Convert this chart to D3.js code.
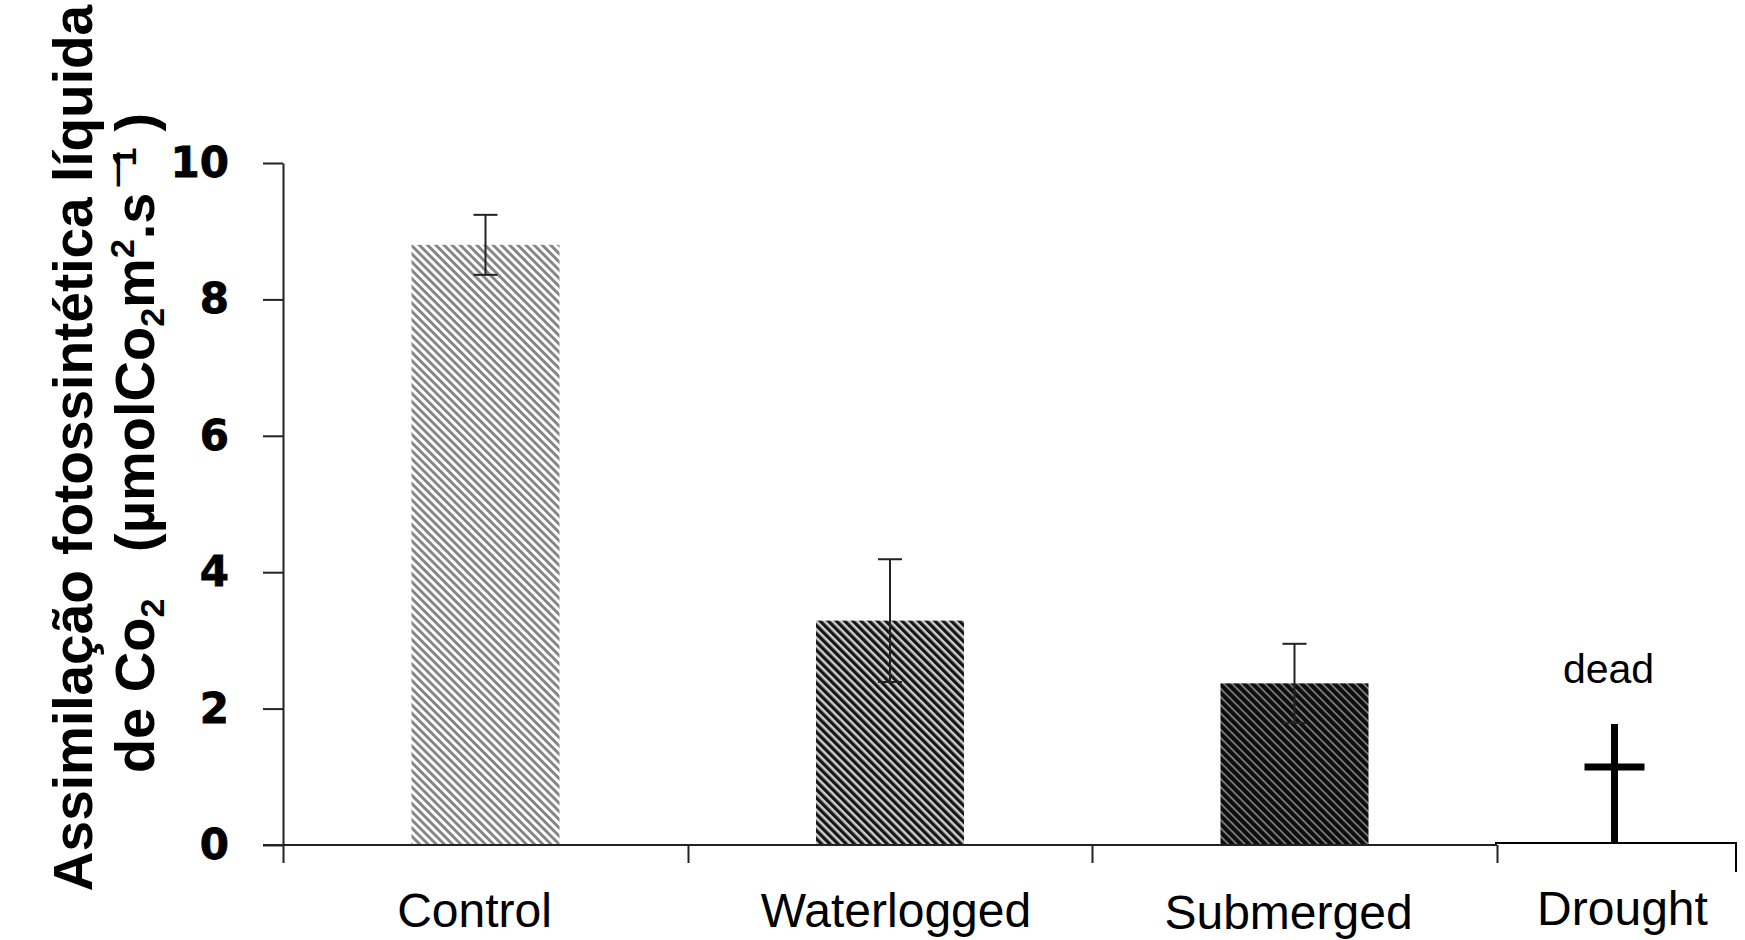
<!DOCTYPE html>
<html>
<head>
<meta charset="utf-8">
<script src="https://cdn.jsdelivr.net/npm/d3@7"></script>
<style>
  body { margin: 0; background: #fff; }
  text { white-space: pre; }
</style>
</head>
<body>
<div id="chart"></div>
<script>
// Chart data
const categories = ["Control", "Waterlogged", "Submerged", "Drought"];
const means = [8.8, 3.29, 2.37, 0];
const errors = [0.44, 0.9, 0.58, 0];
const yTicks = [0, 2, 4, 6, 8, 10];
const deadLabel = "dead";

(function () {
  const [w, h] = [1745, 940];
  const axisColor = "#222";
  const sans = "Liberation Sans, Arial, sans-serif";

  // band edges (drought band is narrower in the original)
  const xScale = d3.scaleLinear()
    .domain([0, 1, 2, 3, 4])
    .range([283, 688, 1092, 1497, 1736]);

  const yScale = d3.scaleLinear()
    .domain([0, 10])
    .range([845, 163]);

  const barWidth = 148;
  // small label nudges / baselines, as in the original layout
  const labelDx = [-11, 6, -6, 6];
  const labelY = [927, 927, 929, 925];

  const svg = d3.select("#chart")
    .append("svg")
    .attr("width", w)
    .attr("height", h);

  // hatch patterns
  const hatches = [
    { id: "hatch0", bg: "#ffffff", fg: "#858585", stripe: 2.9 },
    { id: "hatch1", bg: "#cfcfcf", fg: "#161616", stripe: 3.3 },
    { id: "hatch2", bg: "#8a8a8a", fg: "#0d0d0d", stripe: 4.2 },
    { id: "hatch3", bg: "#8a8a8a", fg: "#0d0d0d", stripe: 4.2 }
  ];
  const defs = svg.append("defs");
  hatches.forEach((p) => {
    const pat = defs.append("pattern")
      .attr("id", p.id)
      .attr("patternUnits", "userSpaceOnUse")
      .attr("width", 5.8)
      .attr("height", 5.8)
      .attr("patternTransform", "rotate(-45)");
    pat.append("rect").attr("width", 5.8).attr("height", 5.8).attr("fill", p.bg);
    pat.append("rect").attr("width", p.stripe).attr("height", 5.8).attr("fill", p.fg);
  });

  const rows = categories.map((c, i) => ({ c, i, v: means[i], e: errors[i] }));

  // bars
  svg.selectAll("rect.bar")
    .data(rows.filter((d) => d.v > 0))
    .enter()
    .append("rect")
    .attr("class", "bar")
    .attr("x", (d) => xScale(d.i + 0.5) - barWidth / 2)
    .attr("y", (d) => yScale(d.v))
    .attr("width", barWidth)
    .attr("height", (d) => yScale(0) - yScale(d.v))
    .attr("fill", (d) => `url(#hatch${d.i})`);

  // error bars
  const errs = svg.append("g")
    .attr("stroke", axisColor)
    .attr("stroke-width", 2);
  rows.filter((d) => d.e > 0).forEach((d) => {
    const cx = xScale(d.i + 0.5);
    errs.append("line")
      .attr("x1", cx).attr("x2", cx)
      .attr("y1", yScale(d.v - d.e)).attr("y2", yScale(d.v + d.e));
    [d.v - d.e, d.v + d.e].forEach((v) => {
      errs.append("line")
        .attr("x1", cx - 12).attr("x2", cx + 12)
        .attr("y1", yScale(v)).attr("y2", yScale(v));
    });
  });

  // y axis
  const yAxis = d3.axisLeft(yScale)
    .tickValues(yTicks)
    .tickSize(20)
    .tickSizeOuter(0)
    .tickPadding(34);

  const gy = svg.append("g")
    .attr("transform", `translate(${xScale(0)}, 0)`)
    .call(yAxis);
  gy.selectAll("path, line").attr("stroke", axisColor).attr("stroke-width", 2);
  gy.selectAll("text")
    .attr("font-family", "DejaVu Sans")
    .attr("font-weight", "bold")
    .attr("font-size", 42)
    .attr("stroke", "#000")
    .attr("stroke-width", 0.8)
    .attr("fill", "#000");

  // x axis
  const xAxis = d3.axisBottom(xScale)
    .tickValues([0, 1, 2, 3])
    .tickSize(18)
    .tickFormat("");
  const gx = svg.append("g")
    .attr("transform", `translate(0, ${yScale(0)})`)
    .call(xAxis);
  gx.select(".domain").remove();
  gx.selectAll("line").attr("stroke", axisColor).attr("stroke-width", 2);

  // x axis line, with the small step where the drought panel starts
  svg.append("line")
    .attr("x1", xScale(0) - 20).attr("x2", xScale(3))
    .attr("y1", yScale(0)).attr("y2", yScale(0))
    .attr("stroke", axisColor).attr("stroke-width", 2);
  svg.append("path")
    .attr("d", `M${xScale(3) - 2},${yScale(0) - 2}H${xScale(4)}V${yScale(0) + 27}`)
    .attr("fill", "none")
    .attr("stroke", "#000")
    .attr("stroke-width", 2);

  // category labels
  svg.selectAll("text.cat")
    .data(rows)
    .enter()
    .append("text")
    .attr("class", "cat")
    .attr("x", (d) => xScale(d.i + 0.5) + labelDx[d.i])
    .attr("y", (d) => labelY[d.i])
    .attr("text-anchor", "middle")
    .attr("font-family", sans)
    .attr("font-size", 48)
    .attr("fill", "#000")
    .text((d) => d.c);

  // drought: dead cross
  const dx = xScale(3.5) - 2;
  svg.append("line")
    .attr("x1", dx).attr("x2", dx)
    .attr("y1", yScale(0) - 121).attr("y2", yScale(0) - 2)
    .attr("stroke", "#000").attr("stroke-width", 7);
  svg.append("line")
    .attr("x1", dx - 30).attr("x2", dx + 30)
    .attr("y1", yScale(0) - 78).attr("y2", yScale(0) - 78)
    .attr("stroke", "#000").attr("stroke-width", 7);
  svg.append("text")
    .attr("x", dx - 6)
    .attr("y", yScale(0) - 162)
    .attr("text-anchor", "middle")
    .attr("font-family", sans)
    .attr("font-size", 41)
    .attr("fill", "#000")
    .text(deadLabel);

  // y axis title
  svg.append("text")
    .attr("transform", "translate(92, 448) rotate(-90)")
    .attr("text-anchor", "middle")
    .attr("font-family", sans)
    .attr("font-weight", "bold")
    .attr("font-size", 55)
    .attr("fill", "#000")
    .text("Assimilação fotossintética líquida");

  const t2 = svg.append("text")
    .attr("transform", "translate(154, 443) rotate(-90)")
    .attr("text-anchor", "middle")
    .attr("font-family", sans)
    .attr("font-weight", "bold")
    .attr("font-size", 56)
    .attr("fill", "#000");
  t2.append("tspan").text("de Co");
  t2.append("tspan").attr("font-size", 34).attr("dy", 10).text("2");
  t2.append("tspan").attr("dy", -10).text("   (µmolCo");
  t2.append("tspan").attr("font-size", 34).attr("dy", 10).text("2");
  t2.append("tspan").attr("dy", -10).text("m");
  t2.append("tspan").attr("font-size", 34).attr("dy", -20).text("2");
  t2.append("tspan").attr("dy", 20).text(".s");
  t2.append("tspan").attr("font-size", 34).attr("dx", 6).attr("dy", -27).text("—");
  t2.append("tspan").attr("font-size", 34).attr("dx", -14).attr("dy", 9).text("1");
  t2.append("tspan").attr("dx", 16).attr("dy", 18).text(")");
})();
</script>
</body>
</html>
